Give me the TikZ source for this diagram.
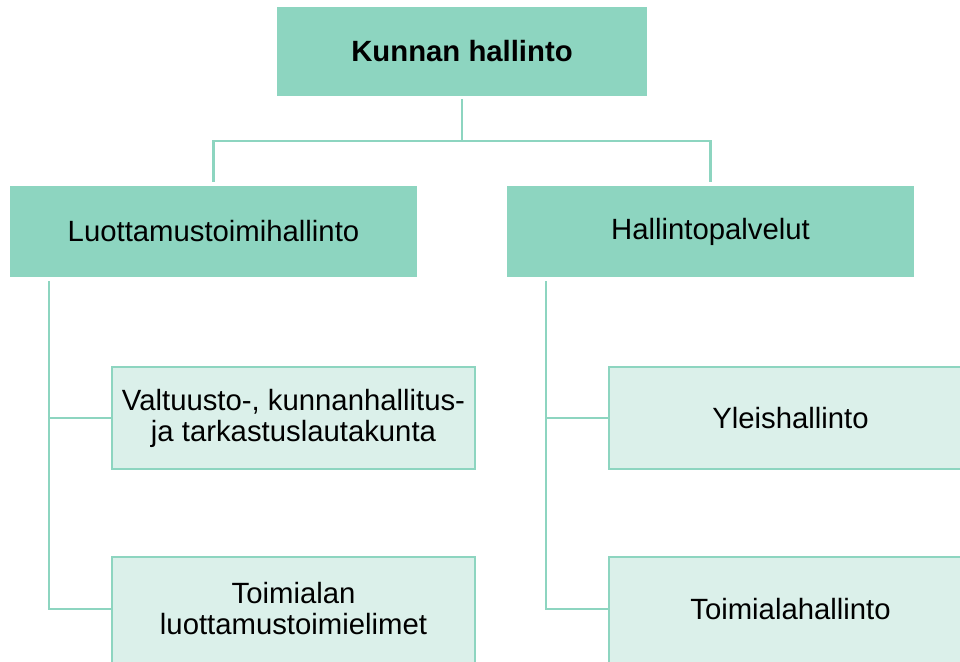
\documentclass[tikz,border=0pt]{standalone}
\usepackage{fontspec}
\setmainfont{Liberation Sans}
\definecolor{mint}{RGB}{141,213,192}
\definecolor{mintpale}{RGB}{219,240,234}
\begin{document}
\begin{tikzpicture}[x=1pt,y=1pt,
  every node/.style={font=\fontsize{29.3}{31}\selectfont, align=center, inner sep=0pt, text=black},
  headbox/.style={fill=mint, draw=none, minimum width=#1, minimum height=90pt},
  unitbox/.style={fill=mintpale, draw=mint, line width=2.5pt, minimum width=363pt, minimum height=102pt},
  link/.style={draw=mint, line width=2.5pt}]
\clip (0,0) rectangle (960,-661);

% top level
\node[headbox=370pt, minimum height=89pt, font=\fontsize{29.3}{31}\selectfont\bfseries] (top) at (462,-51.5) {Kunnan hallinto};

% second level
\node[headbox=407pt, minimum height=91pt] (luot) at (213.5,-231.5) {Luottamustoimihallinto};
\node[headbox=407pt, minimum height=91pt] (palv) at (710.5,-231.5) {Hallintopalvelut};

% third level (the lower row runs past the bottom edge)
\node[unitbox] (valt) at (293.5,-418) {Valtuusto-, kunnanhallitus-\\ja tarkastuslautakunta};
\node[unitbox, minimum height=110pt] (toim) at (293.5,-612) {};
\node[unitbox] (ylei) at (790.5,-418) {Yleishallinto};
\node[unitbox, minimum height=110pt] (tala) at (790.5,-612) {};
\node (toimtext) at (293.5,-609) {Toimialan\\luottamustoimielimet};
\node (talatext) at (790.5,-609) {Toimialahallinto};

% bus from the top box to the two branches
\coordinate (bus) at ([yshift=-45pt]top.south);
\draw[link] ([yshift=-3pt]top.south) -- (bus);
\draw[link] ([yshift=4pt]luot.north) |- (bus) -| ([yshift=4pt]palv.north);

% left branch
\coordinate (ltrunk) at ([xshift=-164.5pt,yshift=-4pt]luot.south);
\draw[link] (ltrunk) |- (toim.west |- toimtext);
\draw[link] (ltrunk |- valt.west) -- (valt.west);

% right branch
\coordinate (rtrunk) at ([xshift=-164.5pt,yshift=-4pt]palv.south);
\draw[link] (rtrunk) |- (tala.west |- talatext);
\draw[link] (rtrunk |- ylei.west) -- (ylei.west);
\end{tikzpicture}
\end{document}
